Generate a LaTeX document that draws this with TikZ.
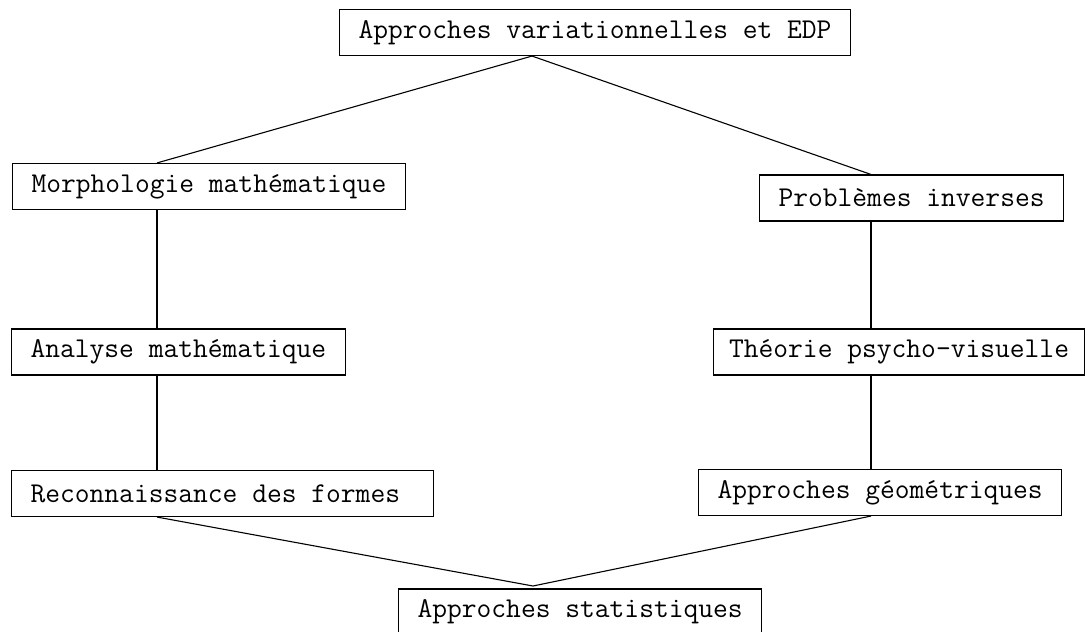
\documentclass[tikz,border=0pt]{standalone}
\usepackage{fontspec}
\setmonofont{Latin Modern Mono}
\tikzset{
  box/.style={draw, line width=1.1pt, anchor=west, font=\ttfamily\fontsize{28.7}{32}\selectfont,
    minimum height=46pt, inner xsep=19pt, inner ysep=0pt},
  link/.style={line width=1.1pt}
}
\begin{document}
\begin{tikzpicture}[x=1pt,y=1pt]
\clip (0,0) rectangle (1085,-632);
\fill[white] (0,0) rectangle (1085,-632);
% column guides
\coordinate (ct) at (532,0);
\coordinate (cl) at (157,0);
\coordinate (cr) at (871,0);
\coordinate (sm) at (533,-586);
% nodes
\node[box] (top) at (339,-32.5) {Approches variationnelles et EDP};
\node[box] (morph) at (12,-186.5) {Morphologie mathématique};
\node[box] (prob) at (759,-198) {Problèmes inverses};
\node[box] (ana) at (11,-352) {Analyse mathématique};
\node[box, minimum width=371pt, inner xsep=0pt] (theo) at (713,-352) {Théorie psycho-visuelle};
\node[box] (recon) at (11,-493.5) {Reconnaissance des formes\phantom{x}};
\node[box] (geom) at (698,-492.5) {Approches géométriques};
\node[box] (stats) at (398,-612) {Approches statistiques};
% connectors
\draw[link] (morph.north -| cl) -- (top.south -| ct) -- (prob.north -| cr);
\draw[link] (morph.south -| cl) -- (ana.north -| cl);
\draw[link] (ana.south -| cl) -- (recon.north -| cl);
\draw[link] (prob.south -| cr) -- (theo.north -| cr);
\draw[link] (theo.south -| cr) -- (geom.north -| cr);
\draw[link] (recon.south -| cl) -- (sm) -- (geom.south -| cr);
\end{tikzpicture}
\end{document}
